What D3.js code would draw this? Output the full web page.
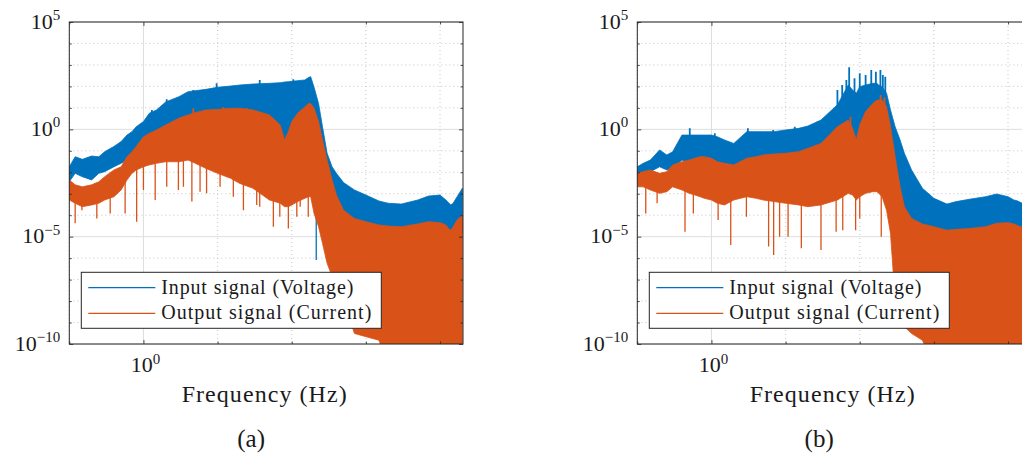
<!DOCTYPE html>
<html>
<head>
<meta charset="utf-8">
<script src="https://cdn.jsdelivr.net/npm/d3@7"></script>
<style>
body { margin: 0; background: #fff; }
text { fill: #1a1a1a; }
</style>
</head>
<body>
<svg id="fig" width="1022" height="456" font-family="'Liberation Serif', 'Times New Roman', 'DejaVu Serif', serif"></svg>
<script>
// frequency grid (Hz) shared by all envelopes
var freq = [0.1, 0.12, 0.15, 0.2, 0.25, 0.3, 0.4, 0.5, 0.6, 0.7, 0.8, 1, 1.2, 1.5, 2, 3, 4, 5, 7, 10,
            15, 20, 30, 50, 70, 80, 90, 100, 120, 150, 170, 180, 200, 230, 260, 300, 350, 400, 500, 700,
            1000, 1500, 2000, 3000, 5000, 7000, 10000, 12000, 13000, 14000, 15000, 17000, 20000];

// (a) input signal (voltage): upper / lower envelope
var aInHi = [0.018, 0.053, 0.040, 0.057, 0.053, 0.091, 0.16, 0.27, 0.54, 0.78, 1.33, 2.3, 5.6, 8.0, 19, 33, 57, 63, 73, 91,
             104, 116, 129, 139, 149, 160, 166, 172, 185, 199, 264, 284, 91, 16, 1.33, 0.076, 0.018, 0.0089, 0.0033, 0.0015,
             8.7e-4, 4.6e-4, 3.6e-4, 3.3e-4, 5.1e-4, 7.8e-4, 8.7e-4, 5.1e-4, 3.8e-4, 3.0e-4, 3.6e-4, 7.3e-4, 1.8e-3];
var aInLo = [0.0036, 0.0089, 0.0062, 0.0044, 0.0089, 0.0107, 0.018, 0.026, 0.037, 0.053, 0.076, 0.053, 0.05, 0.06, 0.07, 0.08, 0.09, 0.07, 0.04, 0.025,
             0.015, 0.009, 0.005, 0.0015, 8e-4, 4e-4, 5e-4, 8e-4, 0.0012, 0.0015, 0.0015, 0.0015, 3e-4, 6e-5, 6e-5, 4.2e-5, 2.9e-5, 2e-5, 1.4e-5, 1.4e-5,
             1.4e-5, 1.4e-5, 1.4e-5, 1.4e-5, 1.4e-5, 1.4e-5, 1.4e-5, 1.4e-5, 1.4e-5, 1.4e-5, 1.4e-5, 1.4e-5, 1.4e-5];
// (a) output signal (current)
var aOutHi = [0.0044, 0.0026, 0.0021, 0.0026, 0.0036, 0.0062, 0.0128, 0.018, 0.053, 0.091, 0.16, 0.45, 0.65, 0.93, 1.6, 3.3, 4.7, 6.0, 8.0, 8.5,
              9.5, 9.5, 8.0, 4.7, 1.6, 0.32, 0.78, 2.3, 5.6, 11, 16, 16, 9.5, 2.3, 0.32, 0.037, 0.0044, 8.7e-4, 1.7e-4, 7.1e-5,
              5.0e-5, 3.5e-5, 3.1e-5, 2.9e-5, 3.9e-5, 5.0e-5, 4.5e-5, 3.5e-5, 2.4e-5, 2.0e-5, 2.9e-5, 6.0e-5, 1.0e-4];
var aOutLo = [5.1e-4, 3.6e-4, 2.5e-4, 3.0e-4, 3.6e-4, 5.1e-4, 7.3e-4, 1.5e-3, 4.4e-3, 8.9e-3, 0.0128, 0.018, 0.022, 0.026, 0.031, 0.031, 0.037, 0.026, 0.015, 0.0089,
              0.0052, 0.0030, 0.0018, 5.1e-4, 3.6e-4, 2.5e-4, 2.5e-4, 3.0e-4, 4.3e-4, 6.1e-4, 7.3e-4, 7.3e-4, 1.2e-4, 2.9e-5, 4.9e-6, 5.7e-7, 1.4e-7, 2.3e-8, 1.1e-8, 3.1e-10,
              2.2e-10, 1.5e-10, 1e-11, 1e-11, 1e-11, 1e-11, 1e-11, 1e-11, 1e-11, 1e-11, 1e-11, 1e-11, 1e-11];
// (a) deep dips below the dense band, and peaks poking above it
var aOutDipF = [0.12, 0.148, 0.235, 0.356, 0.566, 0.81, 1.0, 1.44, 2.06, 2.96, 3.46, 4.5, 5.8, 7.1, 10.8, 16.3, 22.3, 33.7, 37, 56.5, 69, 90, 117, 130, 167];
var aOutDipV = [4.2e-5, 1.7e-4, 7.1e-5, 1.2e-4, 1.2e-4, 5.0e-5, 1.5e-3, 5.1e-4, 2.1e-3, 1.5e-3, 2.1e-3, 4.3e-4, 1.25e-3, 1.04e-3, 2.1e-3, 7.3e-4, 1.7e-4, 3.0e-4, 2.5e-4, 2.9e-5, 8.5e-5, 2.4e-5, 8.5e-5, 2.5e-4, 8.5e-5];
var aInDipF = [214];
var aInDipV = [8.2e-7];
var aInTipF = [1.3, 2.06, 4.7, 9.7, 37, 105];
var aInTipV = [8.0, 25, 68, 139, 199, 213];
var aOutTipF = [4.7, 12, 24.7];
var aOutTipV = [9.5, 11, 9.5];

// (b) input signal (voltage)
var bInHi = [0.018, 0.026, 0.037, 0.11, 0.064, 0.091, 0.54, 0.54, 0.54, 0.54, 0.54, 0.54, 0.45, 0.32, 0.22, 0.78, 0.78, 0.78, 0.78, 0.93,
             1.11, 1.43, 2.7, 14, 116, 68, 48, 97, 116, 139, 139, 116, 97, 48, 8.0, 1.33, 0.32, 0.076, 0.0128, 0.0018,
             6.1e-4, 3.3e-4, 4.3e-4, 5.5e-4, 7.3e-4, 9.7e-4, 7.3e-4, 5.1e-4, 4.8e-4, 4.3e-4, 3.8e-4, 3.3e-4, 3.0e-4];
var bInLo = [0.0062, 0.0089, 0.0107, 0.018, 0.0128, 0.015, 0.037, 0.026, 0.018, 0.0128, 0.0089, 0.0044, 0.0030, 0.0021, 0.0021, 0.0015, 0.0015, 0.0015, 0.0012, 0.001,
             0.001, 0.001, 0.0012, 0.002, 0.003, 0.003, 0.002, 0.003, 0.004, 0.004, 0.004, 0.004, 0.003, 6e-4, 6e-5, 1.4e-5, 1.4e-5, 1.4e-5, 1.4e-5, 1.4e-5,
             1.4e-5, 1.4e-5, 1.4e-5, 1.4e-5, 1.4e-5, 1.4e-5, 1.4e-5, 1.4e-5, 1.4e-5, 1.4e-5, 1.4e-5, 1.4e-5, 1.4e-5];
// (b) output signal (current)
var bOutHi = [0.0089, 0.0107, 0.0128, 0.0089, 0.0107, 0.022, 0.031, 0.037, 0.045, 0.053, 0.053, 0.045, 0.031, 0.026, 0.022, 0.045, 0.053, 0.064, 0.071, 0.076,
              0.091, 0.13, 0.22, 1.33, 2.7, 1.11, 0.32, 1.6, 6.7, 16, 23, 23, 23, 11, 1.33, 0.053, 0.0021, 2.5e-4, 7.1e-5, 3.9e-5,
              2.9e-5, 2.0e-5, 2.2e-5, 2.4e-5, 2.9e-5, 4.2e-5, 4.5e-5, 3.9e-5, 3.5e-5, 3.1e-5, 2.9e-5, 2.4e-5, 2.0e-5];
var bOutLo = [0.0021, 0.0021, 0.0015, 1.04e-3, 1.25e-3, 0.0021, 0.0015, 1.04e-3, 8.7e-4, 7.3e-4, 6.1e-4, 5.1e-4, 3.6e-4, 3.0e-4, 5.1e-4, 7.3e-4, 6.1e-4, 5.1e-4, 4.3e-4, 3.6e-4,
              3.0e-4, 2.5e-4, 3.0e-4, 5.1e-4, 1.04e-3, 8.7e-4, 5.1e-4, 7.3e-4, 1.04e-3, 1.25e-3, 1.25e-3, 1.04e-3, 7.3e-4, 1.7e-4, 1.4e-5, 1.1e-8, 1.9e-9, 6.4e-10, 3.1e-10, 1.5e-10,
              1e-11, 1e-11, 1e-11, 1e-11, 1e-11, 1e-11, 1e-11, 1e-11, 1e-11, 1e-11, 1e-11, 1e-11, 1e-11];
var bOutDipF = [0.13, 0.185, 0.44, 0.57, 1.23, 1.82, 2.96, 5.9, 6.9, 8.3, 10.8, 16.3, 30, 48, 59, 88, 100, 195];
var bOutDipV = [1.2e-4, 3.6e-4, 1.7e-5, 1.2e-4, 6.0e-5, 4.1e-6, 8.5e-5, 3.5e-6, 1.4e-6, 1.0e-5, 1.0e-5, 2.9e-6, 2.4e-6, 1.7e-5, 2.0e-5, 2.0e-5, 7.1e-5, 1.0e-5];
// (b) tall peaks above the dense band
var bInTipF = [0.51, 1.11, 3.1, 6.8, 13.3, 27, 50, 58, 66, 72, 85, 100, 120, 143, 165, 190, 205, 221];
var bInTipV = [1.11, 0.65, 1.11, 0.93, 1.33, 2.3, 68, 116, 199, 773, 238, 406, 340, 581, 486, 581, 340, 284];
var bOutTipF = [75, 191, 215];
var bOutTipV = [3.9, 40, 30];

// axes
var yMajorTicks = [1e-10, 1e-5, 1e0, 1e5];
var yMajorLabels = ['\u221210', '\u22125', '0', '5'];
var yMinorTicks = [1e-9, 1e-8, 1e-7, 1e-6, 1e-4, 1e-3, 1e-2, 1e-1, 1e1, 1e2, 1e3, 1e4];
var xMajorTicks = [1];
var xMajorLabels = ['0'];
var xMinorTicks = [0.1, 10, 100, 1000, 10000];
var legendLabels = ['Input signal (Voltage)', 'Output signal (Current)'];
var legendWidths = [192, 210];
var colors = ['#0072BD', '#D95319'];
var captions = ['(a)', '(b)'];

var svg = d3.select('#fig');
svg.insert('rect', ':first-child').attr('width', 1022).attr('height', 456).attr('fill', '#fff');

var axTop = 22, axBottom = 344, plotW = 393.7;

var panels = [
    {left: 69.3, inHi: aInHi, inLo: aInLo, outHi: aOutHi, outLo: aOutLo,
     inDipF: aInDipF, inDipV: aInDipV, outDipF: aOutDipF, outDipV: aOutDipV,
     inTipF: aInTipF, inTipV: aInTipV, outTipF: aOutTipF, outTipV: aOutTipV},
    {left: 637.3, inHi: bInHi, inLo: bInLo, outHi: bOutHi, outLo: bOutLo,
     inDipF: [], inDipV: [], outDipF: bOutDipF, outDipV: bOutDipV,
     inTipF: bInTipF, inTipV: bInTipV, outTipF: bOutTipF, outTipV: bOutTipV}
];

function powLabel(g, px, py, exp, anchor) {
    var t = g.append('text')
        .attr('x', px)
        .attr('y', py)
        .attr('text-anchor', anchor);
    t.append('tspan').attr('font-size', 22).text('10');
    t.append('tspan').attr('font-size', 15).attr('dy', -8.5).text(exp);
}

panels.forEach(function(p, k) {
    var x = d3.scaleLog().domain([0.1, 20400]).range([p.left, p.left + plotW]);
    var y = d3.scaleLog().domain([1e-10, 1e5]).range([axBottom, axTop]);
    var g = svg.append('g');

    var clipId = 'clip' + k;
    svg.append('clipPath').attr('id', clipId)
        .append('rect')
        .attr('x', p.left).attr('y', axTop)
        .attr('width', plotW).attr('height', axBottom - axTop);

    // grid
    var grid = g.append('g');
    grid.selectAll('.gxm').data(xMinorTicks).enter().append('line')
        .attr('x1', d => x(d)).attr('x2', d => x(d))
        .attr('y1', axTop).attr('y2', axBottom)
        .attr('stroke', '#b8b8b8').attr('stroke-width', 0.8).attr('stroke-dasharray', '1,3');
    grid.selectAll('.gym').data(yMinorTicks).enter().append('line')
        .attr('x1', p.left).attr('x2', p.left + plotW)
        .attr('y1', d => y(d)).attr('y2', d => y(d))
        .attr('stroke', '#b8b8b8').attr('stroke-width', 0.8).attr('stroke-dasharray', '1,3');
    grid.selectAll('.gx').data(xMajorTicks).enter().append('line')
        .attr('x1', d => x(d)).attr('x2', d => x(d))
        .attr('y1', axTop).attr('y2', axBottom)
        .attr('stroke', '#dedede').attr('stroke-width', 1);
    grid.selectAll('.gy').data(yMajorTicks).enter().append('line')
        .attr('x1', p.left).attr('x2', p.left + plotW)
        .attr('y1', d => y(d)).attr('y2', d => y(d))
        .attr('stroke', '#dedede').attr('stroke-width', 1);

    // data
    var plot = g.append('g').attr('clip-path', 'url(#' + clipId + ')');

    function envY(f, vals) {
        var i = d3.bisectLeft(freq, f);
        i = Math.max(1, Math.min(freq.length - 1, i));
        var t = (x(f) - x(freq[i - 1])) / (x(freq[i]) - x(freq[i - 1]));
        return y(vals[i - 1]) + t * (y(vals[i]) - y(vals[i - 1]));
    }

    function series(hi, lo, dipF, dipV, tipF, tipV, color) {
        var area = d3.area()
            .x((d, i) => x(freq[i]))
            .y0((d, i) => y(lo[i]))
            .y1((d, i) => y(hi[i]));
        plot.append('path')
            .datum(hi)
            .attr('d', area)
            .attr('fill', color)
            .attr('stroke', color)
            .attr('stroke-width', 0.8);
        plot.selectAll(null).data(dipF).enter().append('line')
            .attr('x1', d => x(d)).attr('x2', d => x(d))
            .attr('y1', (d, i) => y(dipV[i]))
            .attr('y2', d => envY(d, lo) - 2)
            .attr('stroke', color).attr('stroke-width', 1.3);
        plot.selectAll(null).data(tipF).enter().append('line')
            .attr('x1', d => x(d)).attr('x2', d => x(d))
            .attr('y1', (d, i) => y(tipV[i]))
            .attr('y2', d => envY(d, hi) + 2)
            .attr('stroke', color).attr('stroke-width', 1.8);
    }

    series(p.inHi, p.inLo, p.inDipF, p.inDipV, p.inTipF, p.inTipV, colors[0]);
    series(p.outHi, p.outLo, p.outDipF, p.outDipV, p.outTipF, p.outTipV, colors[1]);

    // ticks (inside) on all four sides
    var axes = g.append('g').attr('color', '#262626');
    function ticks(gen, vals, size, tx, ty) {
        var a = axes.append('g').attr('transform', 'translate(' + tx + ',' + ty + ')')
            .call(gen.tickValues(vals).tickSize(size).tickFormat(''));
        a.select('.domain').remove();
        a.selectAll('line').attr('stroke-width', 0.8);
    }
    ticks(d3.axisLeft(y), yMajorTicks, -4, p.left, 0);
    ticks(d3.axisLeft(y), yMinorTicks, -2.5, p.left, 0);
    ticks(d3.axisRight(y), yMajorTicks, -4, p.left + plotW, 0);
    ticks(d3.axisRight(y), yMinorTicks, -2.5, p.left + plotW, 0);
    ticks(d3.axisBottom(x), xMajorTicks, -4, 0, axBottom);
    ticks(d3.axisBottom(x), xMinorTicks, -2.5, 0, axBottom);
    ticks(d3.axisTop(x), xMajorTicks, -4, 0, axTop);
    ticks(d3.axisTop(x), xMinorTicks, -2.5, 0, axTop);

    axes.append('rect')
        .attr('x', p.left).attr('y', axTop)
        .attr('width', plotW).attr('height', axBottom - axTop)
        .attr('fill', 'none').attr('stroke', '#262626').attr('stroke-width', 1);

    // tick labels
    yMajorTicks.forEach(function(v, i) {
        powLabel(g, p.left - 9, y(v) + 6.5, yMajorLabels[i], 'end');
    });
    xMajorTicks.forEach(function(v, i) {
        powLabel(g, x(v) + 2, 372, xMajorLabels[i], 'middle');
    });

    var cx = p.left + plotW / 2;
    g.append('text')
        .attr('x', cx - 2).attr('y', 402)
        .attr('text-anchor', 'middle')
        .attr('font-size', 24)
        .attr('textLength', 165).attr('lengthAdjust', 'spacing')
        .text('Frequency (Hz)');
    g.append('text')
        .attr('x', cx - 15).attr('y', 447)
        .attr('text-anchor', 'middle')
        .attr('font-size', 25)
        .text(captions[k]);

    // legend
    var lx = p.left + 12, ly = 272.3;
    var leg = g.append('g');
    leg.append('rect')
        .attr('x', lx).attr('y', ly)
        .attr('width', 300).attr('height', 56)
        .attr('fill', '#fff').attr('stroke', '#262626').attr('stroke-width', 1);
    legendLabels.forEach(function(lab, i) {
        var yy = ly + 15.4 + i * 25.6;
        leg.append('line')
            .attr('x1', lx + 7).attr('x2', lx + 74)
            .attr('y1', yy).attr('y2', yy)
            .attr('stroke', colors[i]).attr('stroke-width', 1.2);
        leg.append('text')
            .attr('x', lx + 80).attr('y', yy + 5.8)
            .attr('font-size', 20)
            .attr('textLength', legendWidths[i]).attr('lengthAdjust', 'spacing')
            .text(lab);
    });
});
</script>
</body>
</html>
